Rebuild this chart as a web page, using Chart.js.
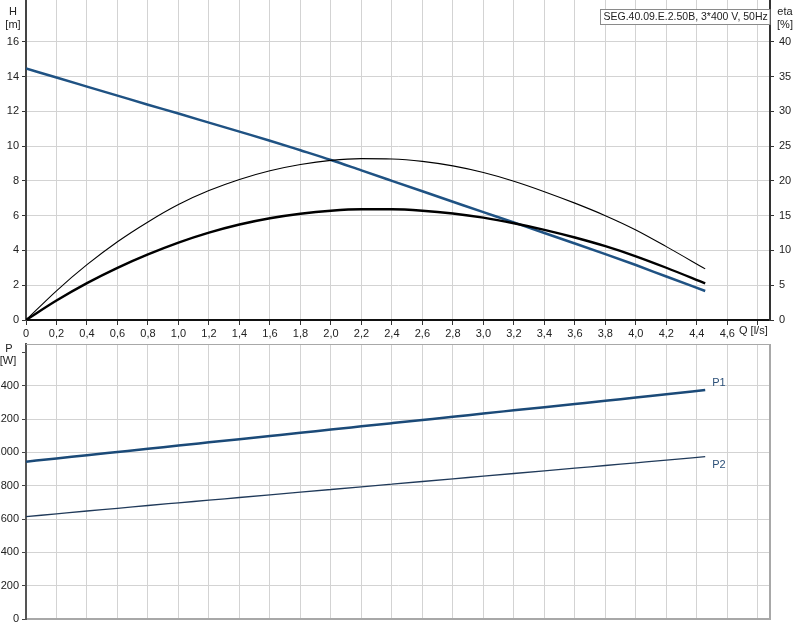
<!DOCTYPE html>
<html><head><meta charset="utf-8">
<script src="https://cdn.jsdelivr.net/npm/chart.js@4/dist/chart.umd.min.js"></script>
<style>
html,body{margin:0;padding:0;background:#fff;width:797px;height:637px;overflow:hidden}
canvas{position:absolute;left:0}
#c1{top:0}
#c2{top:340px}
</style></head><body>
<canvas id="c1" width="797" height="340"></canvas>
<canvas id="c2" width="797" height="297"></canvas>
<script>
// ---- data ----
const qValues   = [0,0.2,0.4,0.6,0.8,1.0,1.2,1.4,1.6,1.8,2.0,2.2,2.4,2.6,2.8,3.0,3.2,3.4,3.6,3.8,4.0,4.2,4.455];
const hValues   = [14.46,13.94,13.42,12.9,12.38,11.87,11.35,10.83,10.31,9.76,9.2,8.6,8.0,7.4,6.8,6.2,5.61,5.0,4.4,3.79,3.16,2.5,1.67];
const etaHydValues = [0,4.2,7.95,11.25,14.1,16.6,18.6,20.2,21.45,22.35,22.95,23.2,23.15,22.8,22.15,21.2,19.95,18.45,16.8,15.0,12.95,10.55,7.35];
const etaTotValues = [0,2.8,5.3,7.5,9.43,11.13,12.56,13.73,14.63,15.28,15.71,15.91,15.91,15.71,15.31,14.71,13.91,12.96,11.86,10.61,9.16,7.51,5.26];
const p1Values  = [944,963,983,1002,1021,1041,1060,1079,1098,1117,1137,1156,1175,1194,1213,1233,1252,1271,1290,1309,1329,1348,1374];
const p2Values  = [614,631,648,664,681,697,713,729,745,761,777,793,809,825,841,857,873,889,905,921,937,953,974];

const qTicks   = [0,0.2,0.4,0.6,0.8,1.0,1.2,1.4,1.6,1.8,2.0,2.2,2.4,2.6,2.8,3.0,3.2,3.4,3.6,3.8,4.0,4.2,4.4,4.6,4.8];
const hTicks   = [0,2,4,6,8,10,12,14,16];
const etaTicks = [0,5,10,15,20,25,30,35,40];
const pTicks   = [0,200,400,600,800,1000,1200,1400,1600];

const titleText = 'SEG.40.09.E.2.50B, 3*400 V, 50Hz';

// ---- axis ranges ----
const xMax = 4.88, hMax = 18.4, etaMax = 46, pMax = 1650;

const FONT = {family:'"Liberation Sans", Arial, sans-serif', size:11};
const TXT = '#222';
const GRID = '#d3d3d3';
const pts = (ys) => qValues.map((q,i)=>({x:q, y:ys[i]}));
const fmtQ = v => v === 0 ? '0' : v.toFixed(1).replace('.', ',');
const setTicks = arr => s => { s.ticks = arr.map(v => ({value:v})); };
const noPad = s => { s.paddingTop = 0; s.paddingBottom = 0; s.paddingLeft = 0; s.paddingRight = 0; };

const topText = {
  id:'topText',
  afterDraw(chart){
    const ctx = chart.ctx;
    ctx.save();
    ctx.font = '11px "Liberation Sans", Arial, sans-serif';
    ctx.fillStyle = TXT;
    ctx.textBaseline = 'middle';
    ctx.textAlign = 'center';
    ctx.fillText('H', 13, 12);
    ctx.fillText('[m]', 13, 25);
    ctx.fillText('eta', 785, 12);
    ctx.fillText('[%]', 785, 25);
    ctx.textAlign = 'left';
    ctx.fillText('Q [l/s]', 739, 331);
    // title box
    ctx.font = '10.5px "Liberation Sans", Arial, sans-serif';
    const w = ctx.measureText(titleText).width;
    const right = chart.chartArea.right;
    const bx = Math.round(right - w - 6) + 0.5;
    ctx.fillStyle = '#fff';
    ctx.fillRect(bx, 9.5, right - bx, 15);
    ctx.strokeStyle = '#8a8a8a';
    ctx.lineWidth = 1;
    ctx.strokeRect(bx, 9.5, right - bx, 15);
    ctx.fillStyle = TXT;
    ctx.fillText(titleText, bx + 3, 17.5);
    ctx.restore();
  }
};

const botText = {
  id:'botText',
  afterDraw(chart){
    const ctx = chart.ctx, a = chart.chartArea;
    ctx.save();
    // frame
    ctx.strokeStyle = '#a8a8a8';
    ctx.lineWidth = 1;
    ctx.beginPath(); ctx.moveTo(a.left, a.top + 0.5); ctx.lineTo(a.right, a.top + 0.5); ctx.stroke();
    ctx.lineWidth = 2;
    ctx.beginPath(); ctx.moveTo(a.right, a.top); ctx.lineTo(a.right, a.bottom + 1); ctx.stroke();
    ctx.font = '11px "Liberation Sans", Arial, sans-serif';
    ctx.fillStyle = TXT;
    ctx.textBaseline = 'middle';
    ctx.textAlign = 'center';
    ctx.fillText('P', 9, 9);
    ctx.fillText('[W]', 8, 21);
    // series labels next to the last points
    ctx.textAlign = 'left';
    ctx.fillStyle = '#2c5078';
    const m0 = chart.getDatasetMeta(0).data, m1 = chart.getDatasetMeta(1).data;
    const l0 = m0[m0.length-1], l1 = m1[m1.length-1];
    ctx.fillText('P1', l0.x + 7, l0.y - 7);
    ctx.fillText('P2', l1.x + 7, l1.y + 8);
    ctx.restore();
  }
};

const common = {
  responsive:false, animation:false, events:[],
  plugins:{legend:{display:false}, tooltip:{enabled:false}},
  elements:{point:{radius:0}, line:{cubicInterpolationMode:'monotone', borderCapStyle:'butt'}}
};

new Chart(document.getElementById('c1'), {
  type:'line',
  data:{datasets:[
    {data:pts(etaHydValues), yAxisID:'eta', borderColor:'#000', borderWidth:1.1, fill:false},
    {data:pts(etaTotValues), yAxisID:'eta', borderColor:'#000', borderWidth:2.4, fill:false},
    {data:pts(hValues), yAxisID:'y', borderColor:'#1f5283', borderWidth:2.5, fill:false}
  ]},
  options:Object.assign({}, common, {
    layout:{padding:0},
    scales:{
      x:{type:'linear', min:0, max:xMax,
         afterBuildTicks:setTicks(qTicks),
         afterFit:s=>{ s.height = 20; noPad(s); },
         grid:{color:GRID, lineWidth:1, tickLength:5, tickColor:'#333'},
         border:{color:'#111', width:2},
         ticks:{font:FONT, color:TXT, padding:2, maxRotation:0, autoSkip:false,
                callback:v => v > 4.7 ? '' : fmtQ(v)}},
      y:{type:'linear', position:'left', min:0, max:hMax,
         afterBuildTicks:setTicks(hTicks),
         afterFit:s=>{ s.width = 26; noPad(s); },
         grid:{color:GRID, lineWidth:1, tickLength:4, tickColor:'#333'},
         border:{color:'#444', width:2},
         ticks:{font:FONT, color:TXT, padding:3}},
      eta:{type:'linear', position:'right', min:0, max:etaMax,
         afterBuildTicks:setTicks(etaTicks),
         afterFit:s=>{ s.width = 27; noPad(s); },
         grid:{drawOnChartArea:false, tickLength:4, tickColor:'#333'},
         border:{color:'#333', width:2},
         ticks:{font:FONT, color:TXT, padding:5}}
    }
  }),
  plugins:[topText]
});

new Chart(document.getElementById('c2'), {
  type:'line',
  data:{datasets:[
    {data:pts(p1Values), borderColor:'#1b4a78', borderWidth:2.5, fill:false},
    {data:pts(p2Values), borderColor:'#203a5a', borderWidth:1.3, fill:false}
  ]},
  options:Object.assign({}, common, {
    layout:{padding:{top:4, bottom:18, right:27, left:0}},
    scales:{
      x:{type:'linear', min:0, max:xMax,
         afterBuildTicks:setTicks(qTicks),
         afterFit:s=>{ s.height = 0; noPad(s); },
         grid:{color:GRID, lineWidth:1, drawTicks:false},
         border:{color:'#a8a8a8', width:2},
         ticks:{display:false}},
      y:{type:'linear', position:'left', min:0, max:pMax,
         afterBuildTicks:setTicks(pTicks),
         afterFit:s=>{ s.width = 26; noPad(s); },
         grid:{color:c => (c.tick && c.tick.value === 1600) ? 'rgba(0,0,0,0)' : GRID,
               lineWidth:1, tickLength:4, tickColor:'#444'},
         border:{color:'#555', width:2},
         ticks:{font:FONT, color:TXT, padding:3, callback:v => v === 1600 ? '' : String(v)}}
    }
  }),
  plugins:[botText]
});
</script>
</body></html>
